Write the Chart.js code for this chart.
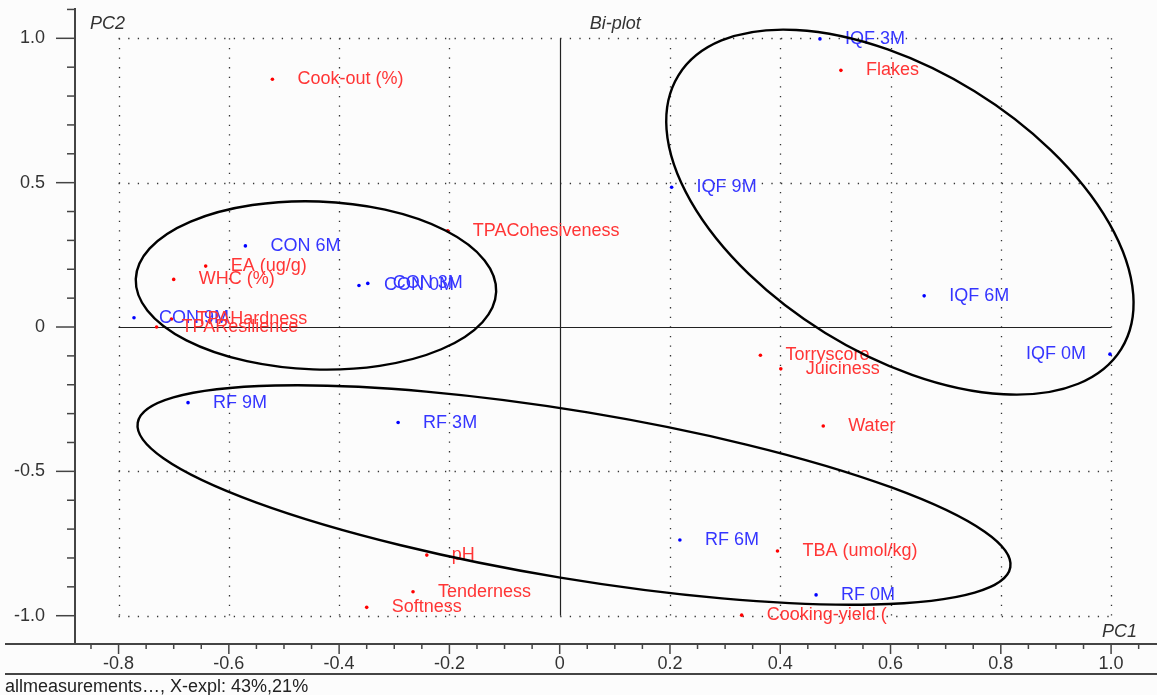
<!DOCTYPE html>
<html>
<head>
<meta charset="utf-8">
<title>Bi-plot</title>
<script src="https://cdn.jsdelivr.net/npm/chart.js@4.4.1/dist/chart.umd.min.js"></script>
<style>
  html, body { margin: 0; padding: 0; background: #fcfcfc; }
  canvas { display: block; }
</style>
</head>
<body>
<canvas id="biplot" width="1157" height="695"></canvas>
<script>
// Samples (scores), drawn blue
const sampleNames = ['IQF 3M', 'IQF 9M', 'IQF 6M', 'IQF 0M', 'CON 6M', 'CON 0M', 'CON 3M', 'CON 9M', 'RF 9M', 'RF 3M', 'RF 6M', 'RF 0M'];
const samplePC1 = [0.472, 0.203, 0.661, 0.998, -0.570, -0.364, -0.348, -0.772, -0.674, -0.293, 0.218, 0.465];
const samplePC2 = [0.998, 0.484, 0.108, -0.094, 0.281, 0.144, 0.151, 0.032, -0.262, -0.331, -0.738, -0.928];

// Measured variables (loadings), drawn red
const variableNames = ['Cook-out (%)', 'Flakes', 'TPACohesiveness', 'EA (ug/g)', 'WHC (%)', 'TPAHardness', 'TPAResilience', 'Torryscore', 'Juiciness', 'Water', 'TBA (umol/kg)', 'pH', 'Tenderness', 'Softness', 'Cooking-yield ('];
const variablePC1 = [-0.521, 0.510, -0.203, -0.642, -0.700, -0.704, -0.731, 0.364, 0.401, 0.478, 0.395, -0.241, -0.266, -0.350, 0.330];
const variablePC2 = [0.858, 0.889, 0.333, 0.211, 0.165, 0.028, 0.000, -0.098, -0.145, -0.343, -0.776, -0.790, -0.917, -0.971, -0.998];

const xTicks = [-0.8, -0.6, -0.4, -0.2, 0, 0.2, 0.4, 0.6, 0.8, 1.0];
const yTicks = [1.0, 0.5, 0, -0.5, -1.0];

// Group ellipses (CON, RF, IQF): centre and radii in axis units, tilt in degrees
const groupCentreX = [-0.442, 0.026, 0.617];
const groupCentreY = [0.144, -0.582, 0.398];
const groupRadiusX = [0.327, 0.802, 0.472];
const groupRadiusY = [0.291, 0.290, 0.492];
const groupTilt = [2, 9.4, 31.7];

const FONT = '"Liberation Sans", Arial, sans-serif';
const INK = '#333';

function fmt(v) {
    return Math.abs(v) < 1e-9 ? '0' : v.toFixed(1);
}

function line(ctx, x1, y1, x2, y2) {
    ctx.beginPath();
    ctx.moveTo(x1, y1);
    ctx.lineTo(x2, y2);
    ctx.stroke();
}

// Grid, zero lines, axis frame and tick marks
const biplotFrame = {
    id: 'biplotFrame',
    beforeDatasetsDraw(chart) {
        const { ctx, chartArea, scales: { x, y } } = chart;
        const gx0 = x.getPixelForValue(xTicks[0]);
        const gx1 = x.getPixelForValue(xTicks[xTicks.length - 1]);
        const gy0 = y.getPixelForValue(1);
        const gy1 = y.getPixelForValue(-1);
        ctx.save();

        // dotted grid
        ctx.strokeStyle = '#333';
        ctx.lineWidth = 1.3;
        ctx.setLineDash([1.3, 8.3]);
        xTicks.forEach(v => {
            if (v === 0) return;
            const px = Math.round(x.getPixelForValue(v)) + 0.5;
            line(ctx, px, gy0, px, gy1);
        });
        yTicks.forEach(v => {
            if (v === 0) return;
            const py = Math.round(y.getPixelForValue(v)) + 0.5;
            line(ctx, gx0, py, gx1, py);
        });
        ctx.setLineDash([]);

        // zero lines
        ctx.strokeStyle = '#222';
        ctx.lineWidth = 1.2;
        const zx = Math.round(x.getPixelForValue(0)) + 0.5;
        const zy = Math.round(y.getPixelForValue(0)) + 0.5;
        line(ctx, zx, gy0, zx, gy1);
        line(ctx, gx0, zy, gx1, zy);

        // axis frame
        ctx.strokeStyle = '#444';
        ctx.lineWidth = 2;
        line(ctx, chartArea.left, chartArea.top, chartArea.left, chartArea.bottom);
        line(ctx, 5, chartArea.bottom, chart.width, chartArea.bottom);
        line(ctx, 5, chartArea.bottom + 30, chart.width, chartArea.bottom + 30);

        // tick marks: y every 0.1, x every 0.05
        ctx.lineWidth = 1.5;
        for (let i = -11; i <= 11; i++) {
            const py = y.getPixelForValue(i / 10);
            if (py < chartArea.top || py > chartArea.bottom) continue;
            const len = i % 5 === 0 ? 19 : 8;
            line(ctx, chartArea.left - len, py, chartArea.left, py);
        }
        for (let i = -17; i <= 21; i++) {
            const px = x.getPixelForValue(i * 0.05);
            if (px < chartArea.left || px > chartArea.right) continue;
            const len = i % 4 === 0 ? 10 : 5;
            line(ctx, px, chartArea.bottom, px, chartArea.bottom + len);
        }
        ctx.restore();
    },

    afterDatasetsDraw(chart) {
        const { ctx, chartArea, scales: { x, y } } = chart;
        ctx.save();

        // point labels
        ctx.font = '18px ' + FONT;
        ctx.textBaseline = 'middle';
        const sets = [
            { names: sampleNames, color: '#3535ff' },
            { names: variableNames, color: '#ff3535' }
        ];
        sets.forEach((set, d) => {
            const pts = chart.getDatasetMeta(d).data;
            ctx.fillStyle = set.color;
            pts.forEach((p, i) => {
                const raw = chart.data.datasets[d].data[i];
                if (raw.x > 0.9) {
                    ctx.textAlign = 'right';
                    ctx.fillText(set.names[i], p.x - 24, p.y);
                } else {
                    ctx.textAlign = 'left';
                    ctx.fillText(set.names[i], p.x + 25, p.y);
                }
            });
        });

        // group ellipses
        ctx.strokeStyle = '#000';
        ctx.lineWidth = 2.4;
        const ux = x.getPixelForValue(1) - x.getPixelForValue(0);
        const uy = y.getPixelForValue(0) - y.getPixelForValue(1);
        groupCentreX.forEach((cx, i) => {
            ctx.beginPath();
            ctx.ellipse(x.getPixelForValue(cx), y.getPixelForValue(groupCentreY[i]),
                groupRadiusX[i] * ux, groupRadiusY[i] * uy,
                groupTilt[i] * Math.PI / 180, 0, Math.PI * 2);
            ctx.stroke();
        });

        // axis names and caption
        ctx.fillStyle = INK;
        ctx.font = 'italic 18px ' + FONT;
        ctx.textAlign = 'left';
        ctx.fillText('PC2', chartArea.left + 15, chartArea.top + 16);
        ctx.fillText('Bi-plot', x.getPixelForValue(0) + 30, chartArea.top + 16);
        ctx.textAlign = 'right';
        ctx.fillText('PC1', chartArea.right - 16, chartArea.bottom - 12);
        ctx.font = '18px ' + FONT;
        ctx.textAlign = 'left';
        ctx.fillStyle = '#222';
        ctx.fillText('allmeasurements\u2026, X-expl: 43%,21%', 5, chartArea.bottom + 43);
        ctx.restore();
    }
};

const ctx = document.getElementById('biplot').getContext('2d');
const chart = new Chart(ctx, {
    type: 'scatter',
    data: {
        datasets: [
            {
                label: 'Samples',
                data: samplePC1.map((v, i) => ({ x: v, y: samplePC2[i] })),
                backgroundColor: '#0000ff',
                pointRadius: 1.8,
                pointBorderWidth: 0
            },
            {
                label: 'Variables',
                data: variablePC1.map((v, i) => ({ x: v, y: variablePC2[i] })),
                backgroundColor: '#ff0000',
                pointRadius: 1.8,
                pointBorderWidth: 0
            }
        ]
    },
    options: {
        responsive: false,
        animation: false,
        devicePixelRatio: 1,
        layout: { padding: { top: 8, bottom: 21, left: 0, right: 0 } },
        plugins: { legend: { display: false }, tooltip: { enabled: false } },
        scales: {
            x: {
                type: 'linear',
                min: -0.879,
                max: 1.076,
                grid: { display: false, drawTicks: false },
                border: { display: false },
                afterBuildTicks: s => { s.ticks = xTicks.map(v => ({ value: v })); },
                afterFit: s => { s.height = 30; s.paddingLeft = 0; s.paddingRight = 0; },
                ticks: {
                    color: INK,
                    font: { family: FONT, size: 18 },
                    padding: 9,
                    maxRotation: 0,
                    autoSkip: false,
                    callback: v => fmt(v)
                }
            },
            y: {
                type: 'linear',
                min: -1.098,
                max: 1.105,
                grid: { display: false, drawTicks: false },
                border: { display: false },
                afterBuildTicks: s => { s.ticks = yTicks.map(v => ({ value: v })); },
                afterFit: s => { s.width = 75; s.paddingTop = 0; s.paddingBottom = 0; },
                ticks: {
                    color: INK,
                    font: { family: FONT, size: 18 },
                    padding: 30,
                    autoSkip: false,
                    callback: v => fmt(v)
                }
            }
        }
    },
    plugins: [biplotFrame]
});
</script>
</body>
</html>
